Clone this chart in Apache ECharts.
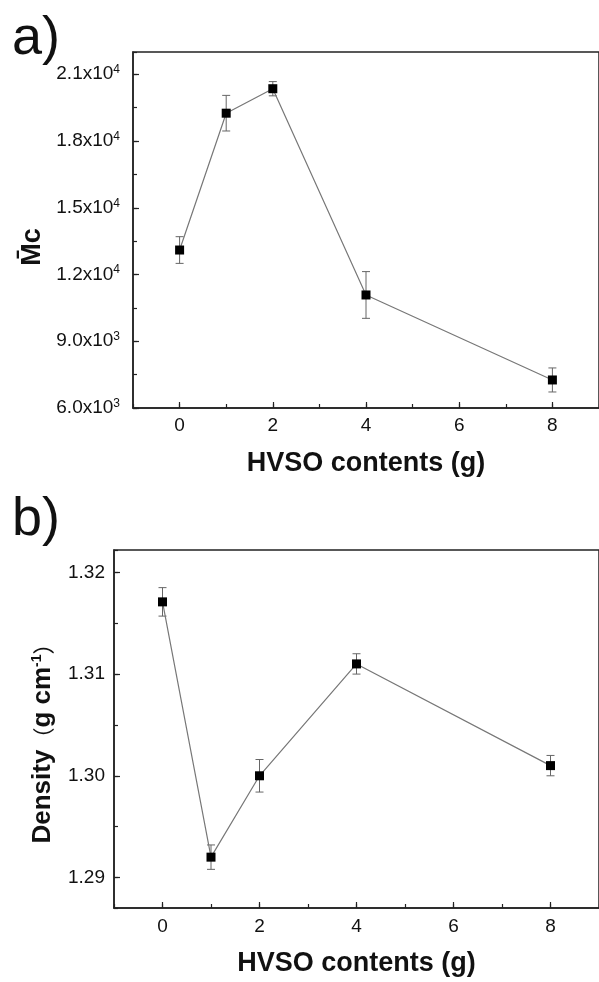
<!DOCTYPE html>
<html>
<head>
<meta charset="utf-8">
<script src="https://cdn.jsdelivr.net/npm/echarts@6/dist/echarts.min.js"></script>
<style>
  html, body { margin: 0; padding: 0; background: #fff; }
  #chart { width: 599px; height: 982px; }
</style>
</head>
<body>
<div id="chart"></div>
<script>
// HVSO contents (g)
var hvso = [0, 1, 2, 4, 8];
// panel a: Mc and its error
var mcMean = [13100, 19250, 20350, 11080, 7260];
var mcErr = [600, 800, 320, 1050, 540];
// panel b: density and its error
var density = [1.3171, 1.2920, 1.3000, 1.3110, 1.3010];
var densityErr = [0.0014, 0.0012, 0.0016, 0.0010, 0.0010];

var font = 'Liberation Sans, Arial, sans-serif';
var axisColor = '#222';

var chart = echarts.init(document.getElementById('chart'));

function pairs(xs, ys) {
  return xs.map(function(x, i) { return [x, ys[i]]; });
}
function errData(xs, ys, es) {
  return xs.map(function(x, i) { return [x, ys[i] - es[i], ys[i] + es[i]]; });
}
function renderErr(params, api) {
  var x = api.value(0);
  var lo = api.coord([x, api.value(1)]);
  var hi = api.coord([x, api.value(2)]);
  var w = 4;
  var st = { stroke: '#666', lineWidth: 1 };
  return {
    type: 'group',
    children: [
      { type: 'line', shape: { x1: lo[0], y1: lo[1], x2: hi[0], y2: hi[1] }, style: st },
      { type: 'line', shape: { x1: lo[0] - w, y1: lo[1], x2: lo[0] + w, y2: lo[1] }, style: st },
      { type: 'line', shape: { x1: hi[0] - w, y1: hi[1], x2: hi[0] + w, y2: hi[1] }, style: st }
    ]
  };
}

function mainX(grid, margin) {
  return {
    gridIndex: grid, type: 'value', position: 'bottom', min: -1, max: 9,
    minInterval: 2, maxInterval: 2,
    axisLine: { onZero: false, lineStyle: { color: axisColor, width: 1.5 } },
    axisTick: { inside: true, length: 6, lineStyle: { color: axisColor, width: 1.2 } },
    axisLabel: { showMinLabel: false, showMaxLabel: false, margin: margin,
      color: '#111', fontSize: 19, fontFamily: font },
    splitLine: { show: false },
    name: 'HVSO contents (g)', nameLocation: 'middle', nameGap: 42,
    nameTextStyle: { color: '#111', fontSize: 27, fontWeight: 'bold', fontFamily: font }
  };
}
function minorX(grid) {
  return {
    gridIndex: grid, type: 'value', position: 'bottom', min: -1, max: 9, interval: 1,
    axisLine: { show: false, onZero: false },
    axisTick: { inside: true, length: 4, lineStyle: { color: axisColor, width: 1.2 } },
    axisLabel: { show: false }, splitLine: { show: false }
  };
}
function minorY(grid, min, max, step) {
  return {
    gridIndex: grid, type: 'value', position: 'left', min: min, max: max,
    minInterval: step, maxInterval: step,
    axisLine: { show: false, onZero: false },
    axisTick: { inside: true, length: 4, lineStyle: { color: axisColor, width: 1.2 } },
    axisLabel: { show: false }, splitLine: { show: false }
  };
}

var option = {
  animation: false,
  grid: [
    { left: 133, top: 52, right: -9, bottom: 574, show: true, borderColor: axisColor, borderWidth: 1.5 },
    { left: 114, top: 550, right: -10, bottom: 74, show: true, borderColor: axisColor, borderWidth: 1.5 }
  ],
  xAxis: [mainX(0, 8), minorX(0), mainX(1, 9), minorX(1)],
  yAxis: [
    {
      gridIndex: 0, type: 'value', position: 'left', min: 6000, max: 22000, interval: 3000,
      axisLine: { show: true, onZero: false, lineStyle: { color: axisColor, width: 1.5 } },
      axisTick: { inside: true, length: 6, lineStyle: { color: axisColor, width: 1.2 } },
      axisLabel: {
        showMaxLabel: false, margin: 13,
        formatter: function(v) {
          var e = Math.floor(Math.log10(v) + 1e-9);
          var m = (v / Math.pow(10, e)).toFixed(1);
          return '{b|' + m + 'x10}{sup|' + e + '}';
        },
        rich: {
          b: { color: '#111', fontSize: 19, fontFamily: font },
          sup: { color: '#111', fontSize: 12, fontFamily: font, padding: [0, 0, 9, 0] }
        }
      },
      splitLine: { show: false }
    },
    minorY(0, 6000, 22000, 1500),
    {
      gridIndex: 1, type: 'value', position: 'left', min: 1.287, max: 1.3222,
      minInterval: 0.01, maxInterval: 0.01,
      axisLine: { show: true, onZero: false, lineStyle: { color: axisColor, width: 1.5 } },
      axisTick: { inside: true, length: 6, lineStyle: { color: axisColor, width: 1.2 } },
      axisLabel: {
        showMinLabel: false, showMaxLabel: false, margin: 9,
        color: '#111', fontSize: 19, fontFamily: font,
        formatter: function(v) { return v.toFixed(2); }
      },
      splitLine: { show: false }
    },
    minorY(1, 1.287, 1.3222, 0.005)
  ],
  graphic: [
    { type: 'text', left: 12, top: 12,
      style: { text: 'a)', fontSize: 54, fill: '#111', fontFamily: font } },
    { type: 'text', left: 12, top: 493,
      style: { text: 'b)', fontSize: 54, fill: '#111', fontFamily: font } },
    { type: 'text', x: 33, y: 247, rotation: Math.PI / 2,
      style: { text: 'M\u0304c', align: 'center', verticalAlign: 'middle',
        fontSize: 27, fontWeight: 'bold', fill: '#111', fontFamily: font } },
    { type: 'text', x: 43, y: 738, rotation: Math.PI / 2,
      style: {
        text: '{b|Density}{p|（}{b|g cm}{sup|-1}{p|）}', align: 'center', verticalAlign: 'middle',
        rich: {
          b: { fontSize: 26, fontWeight: 'bold', fill: '#111', fontFamily: font },
          p: { fontSize: 22, fill: '#111', fontFamily: 'Noto Sans CJK SC' },
          sup: { fontSize: 14, fontWeight: 'bold', fill: '#111', fontFamily: font, padding: [0, 0, 12, 0] }
        }
      } }
  ],
  series: [
    {
      type: 'custom', xAxisIndex: 0, yAxisIndex: 0, renderItem: renderErr,
      data: errData(hvso, mcMean, mcErr), z: 1
    },
    {
      type: 'line', xAxisIndex: 0, yAxisIndex: 0, data: pairs(hvso, mcMean),
      symbol: 'rect', symbolSize: 9,
      lineStyle: { color: '#777', width: 1.2 },
      itemStyle: { color: '#000' }, z: 2
    },
    {
      type: 'custom', xAxisIndex: 2, yAxisIndex: 2, renderItem: renderErr,
      data: errData(hvso, density, densityErr), z: 1
    },
    {
      type: 'line', xAxisIndex: 2, yAxisIndex: 2, data: pairs(hvso, density),
      symbol: 'rect', symbolSize: 9,
      lineStyle: { color: '#777', width: 1.2 },
      itemStyle: { color: '#000' }, z: 2
    }
  ]
};
chart.setOption(option);
</script>
</body>
</html>
